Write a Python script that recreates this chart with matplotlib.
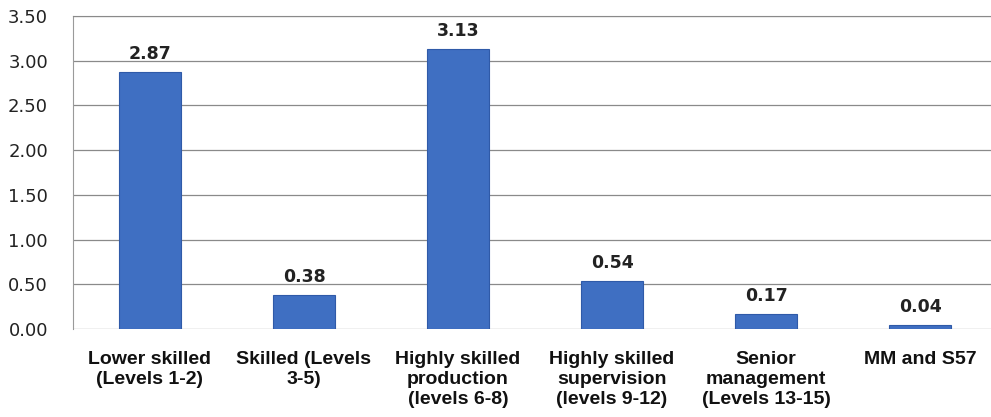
import matplotlib.pyplot as plt
import numpy as np

categories = [
    "Lower skilled\n(Levels 1-2)",
    "Skilled (Levels\n3-5)",
    "Highly skilled\nproduction\n(levels 6-8)",
    "Highly skilled\nsupervision\n(levels 9-12)",
    "Senior\nmanagement\n(Levels 13-15)",
    "MM and S57",
]
values = [2.87, 0.38, 3.13, 0.54, 0.17, 0.04]
yticks = [0.0, 0.5, 1.0, 1.5, 2.0, 2.5, 3.0, 3.5]

plt.rcParams['font.family'] = ['Liberation Sans', 'DejaVu Sans']

fig = plt.figure(figsize=(9.91, 4.17), dpi=100)
ax = fig.add_axes([73 / 991, 88 / 417, 924 / 991, 313 / 417])

x = np.arange(len(values))
ax.bar(x, values, width=0.4, color="#3f6fc2", edgecolor="#2f5aa8", linewidth=0.8, zorder=3)

for xi, v in zip(x, values):
    ax.text(xi, v + 0.1, f"{v:.2f}", ha="center", va="bottom",
            fontsize=12.5, fontweight="bold", color="#222222", zorder=4,
            family="DejaVu Sans")

ax.set_xlim(-0.5, len(values) - 0.5)
ax.set_ylim(0, 3.5)
ax.set_yticks(yticks)
ax.set_yticklabels([f"{t:.2f}" for t in yticks], fontsize=13, color="#222222",
                   family="DejaVu Sans")
ax.set_xticks(x)
ax.set_xticklabels(categories, fontsize=14, fontweight="bold", color="#111111",
                   linespacing=1.22)
ax.tick_params(axis="both", length=0)
ax.tick_params(axis="x", pad=16)
ax.tick_params(axis="y", pad=18)
ax.grid(axis="y", color="#8a8a8a", linewidth=0.9, zorder=0)

for side in ["right", "bottom"]:
    ax.spines[side].set_visible(False)
ax.spines["left"].set_color("#9a9a9a")
ax.spines["top"].set_color("#8a8a8a")

fig.savefig("out.png", dpi=100)
